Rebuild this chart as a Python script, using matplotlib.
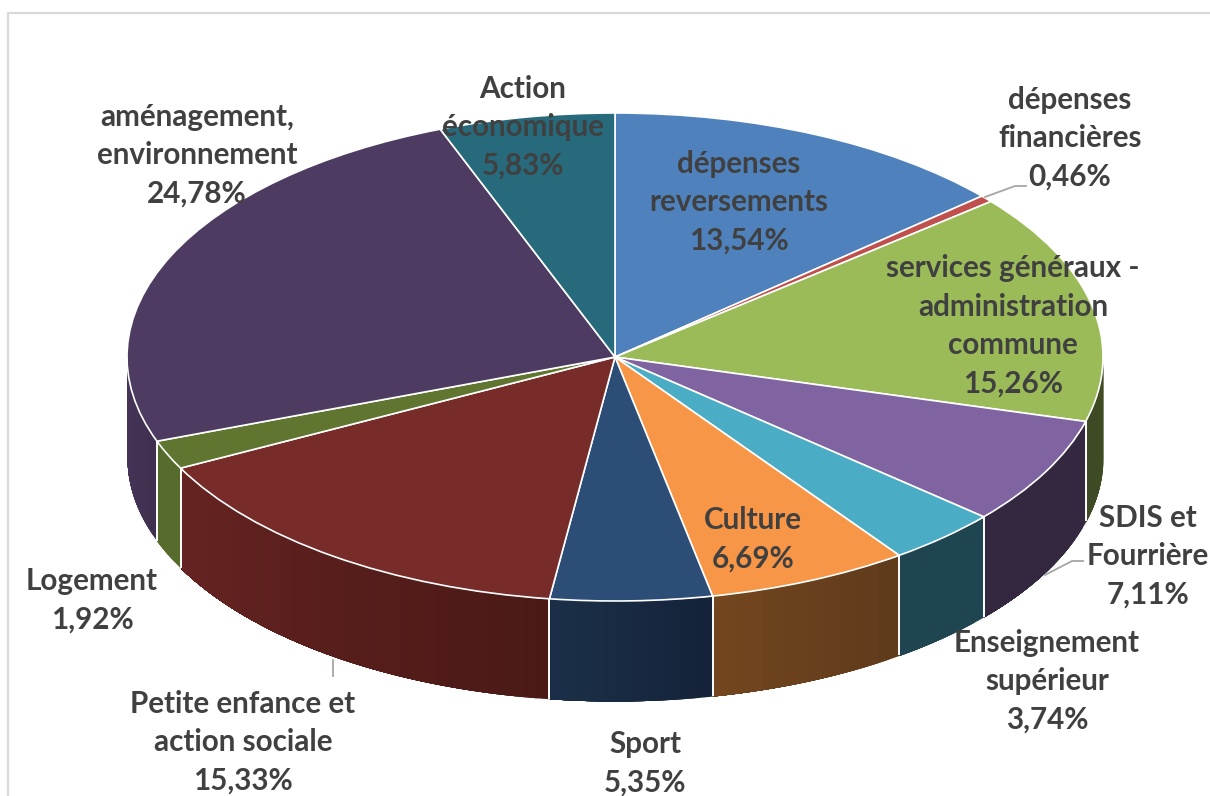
import numpy as np
import matplotlib
matplotlib.use('Agg')
import matplotlib.pyplot as plt
from matplotlib.colors import to_rgb

# Share of each budget item, clockwise from the top of the pie
labels = ['dépenses\nreversements', 'dépenses\nfinancières',
          'services généraux -\nadministration\ncommune', 'SDIS et\nFourrière',
          'Enseignement\nsupérieur', 'Culture', 'Sport',
          'Petite enfance et\naction sociale', 'Logement',
          'aménagement,\nenvironnement', 'Action\néconomique']
values = [13.54, 0.46, 15.26, 7.11, 3.74, 6.69, 5.35, 15.33, 1.92, 24.78, 5.83]

# Label centres in image pixels
label_x = [739, 1070, 1013, 1148, 1047, 753, 645, 243, 92, 197, 523]
label_y = [202, 138, 326, 556, 681, 539, 763, 742, 600, 155, 127]

top_colors = ['#4F81BD', '#C0504D', '#9BBB59', '#8064A2', '#4BACC6', '#F79646',
              '#2C4D75', '#772C2A', '#5F7530', '#4D3B62', '#276A7C']
# Side shading, from the start of the slice's arc to its end (clockwise)
side_start = ['#2F4D71', '#732F2E', '#3F4B23', '#33283F', '#1F4650', '#5F3A1B',
              '#14233A', '#4A1916', '#566B2C', '#40304F', '#276A7C']
side_end = ['#2F4D71', '#732F2E', '#3E4A23', '#33283F', '#1F4650', '#74471F',
            '#1B3048', '#662422', '#566B2C', '#46355A', '#276A7C']

W, H = 1210, 796
CX, CY, RX, RY, DEPTH = 615, 357, 488, 244, 100


def px(x, y):
    return x / W, 1 - y / H


fig = plt.figure(figsize=(W / 100, H / 100), dpi=100)
ax = fig.add_axes([0, 0, 1, 1])

# Top face
ax.pie(values, colors=top_colors, startangle=90, counterclock=False, radius=1,
       wedgeprops={'edgecolor': 'white', 'linewidth': 1.2})
ax.set_aspect('auto')
ax.set_xlim(-CX / RX, (W - CX) / RX)
ax.set_ylim(-(H - CY) / RY, CY / RY)
ax.axis('off')

# Sides of the disc, each step painted through to the slice end so no seams show
depth = DEPTH / RY
edges = np.cumsum([0] + values) / sum(values) * 360
for i in range(len(values)):
    a0, a1 = max(edges[i], 90), min(edges[i + 1], 270)
    if a1 <= a0:
        continue
    steps = max(1, int((a1 - a0) / 1.5))
    t = np.linspace(a0, a1, steps + 1)
    c0, c1 = np.array(to_rgb(side_start[i])), np.array(to_rgb(side_end[i]))
    for j in range(steps):
        seg = np.radians(np.linspace(t[j], a1, 120))
        col = c0 + (c1 - c0) * (j / steps)
        ax.fill_between(np.sin(seg), np.cos(seg), np.cos(seg) - depth,
                        color=col, linewidth=0, zorder=0.5)
    for a in (a0, a1):
        if a in (90, 270):
            continue
        r = np.radians(a)
        ax.plot([np.sin(r)] * 2, [np.cos(r), np.cos(r) - depth], color='white',
                lw=1.2, solid_capstyle='butt', zorder=0.6)

# Leader lines
for pts in ([(985, 197), (1015, 186), (1026, 186)],
            [(1045, 575), (1072, 561), (1083, 561)],
            [(333, 660), (333, 676)]):
    xs, ys = zip(*[px(*p) for p in pts])
    fig.add_artist(plt.Line2D(xs, ys, color='#A6A6A6', lw=1.3))

# Frame of the screenshot
xs, ys = zip(*[px(8, H), px(8, 13), px(W, 13)])
fig.add_artist(plt.Line2D(xs, ys, color='#D9D9D9', lw=1.6))

for name, v, x, y in zip(labels, values, label_x, label_y):
    txt = name + '\n' + f'{v:.2f}%'.replace('.', ',')
    fx, fy = px(x, y)
    fig.text(fx, fy, txt, ha='center', va='center', family='Lato', weight='bold',
             fontsize=21.3, color='#404040', linespacing=1.45)

fig.savefig('out.png', dpi=100)
